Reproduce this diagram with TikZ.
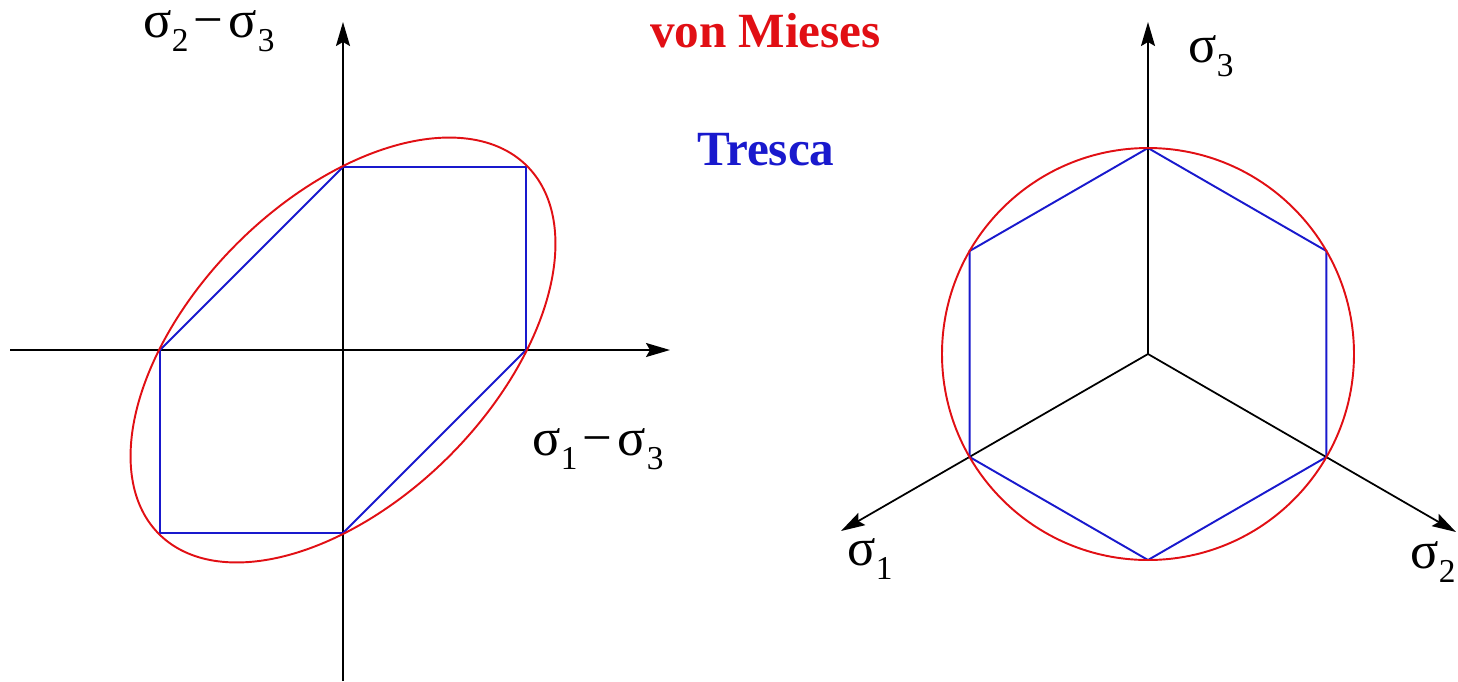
\documentclass[tikz,border=0pt]{standalone}
\usepackage{fontspec}
\setmainfont{Liberation Serif}
\usetikzlibrary{arrows.meta}
\definecolor{vmred}{RGB}{225,15,20}
\definecolor{trblue}{RGB}{25,25,205}
\newcommand\sg[1]{σ\kern0.3pt\raisebox{-8pt}{\fontsize{19}{19}\selectfont #1}}
\begin{document}
\begin{tikzpicture}[x=0.02cm, y=-0.02cm,
  axis/.style={line width=1pt, black, -{Stealth[length=0.48cm, width=0.28cm, inset=0.08cm]}},
  vm/.style={line width=1.1pt, vmred},
  tr/.style={line width=1.1pt, trblue},
  lab/.style={inner sep=0pt, outer sep=0pt, anchor=base west, text height=0.5cm, text depth=0.35cm, font=\fontsize{30}{30}\selectfont},
  title/.style={inner sep=0pt, outer sep=0pt, anchor=base west, font=\fontsize{28}{28}\selectfont\bfseries}]
\useasboundingbox (0,0) rectangle (1458,681);
% ---------- left diagram ----------
\coordinate (O) at (343,350);
\coordinate (vb) at (343,681);
\coordinate (vt) at (343,22);
\coordinate (hl) at (10,350);
\coordinate (hr) at (670,350);
\draw[axis] (vb) -- (vt);
\draw[axis] (hl) -- (hr);
\coordinate (t1) at (160,350);
\coordinate (t2) at (343,167);
\coordinate (t3) at (526,167);
\coordinate (t4) at (526,350);
\coordinate (t5) at (343,533);
\coordinate (t6) at (160,533);
\draw[tr] (t1) -- (t2) -- (t3) -- (t4) -- (t5) -- (t6) -- cycle;
\draw[vm] plot[smooth cycle, variable=\t, domain=0:358, samples=180]
  ({343+184*cos(\t)-106.2*sin(\t)}, {350-184*cos(\t)-106.2*sin(\t)});
\node[lab] (l23) at (143,37) {\sg{2}\kern3pt−\kern3pt\sg{3}};
\node[lab] (l13) at (532,455) {\sg{1}\kern3pt−\kern3pt\sg{3}};
% ---------- titles ----------
\node[title, text=vmred] (vmt) at (650,47) {von Mieses};
\node[title, text=trblue] (trt) at (697,165) {Tresca};
% ---------- right diagram ----------
\coordinate (C) at (1148,354);
\coordinate (a3) at (1148,22);
\coordinate (a1) at (841,531);
\coordinate (a2) at (1456,532);
\draw[axis] (C) -- (a3);
\draw[axis] (C) -- (a1);
\draw[axis] (C) -- (a2);
\coordinate (h1) at (1148,148);
\coordinate (h2) at (1326.4,251);
\coordinate (h3) at (1326.4,457);
\coordinate (h4) at (1148,560);
\coordinate (h5) at (969.6,457);
\coordinate (h6) at (969.6,251);
\draw[tr] (h1) -- (h2) -- (h3) -- (h4) -- (h5) -- (h6) -- cycle;
\draw[vm] (C) circle[radius=206];
\node[lab] (s3) at (1188,62) {\sg{3}};
\node[lab] (s1) at (847,565) {\sg{1}};
\node[lab] (s2) at (1410,568) {\sg{2}};
\end{tikzpicture}
\end{document}
